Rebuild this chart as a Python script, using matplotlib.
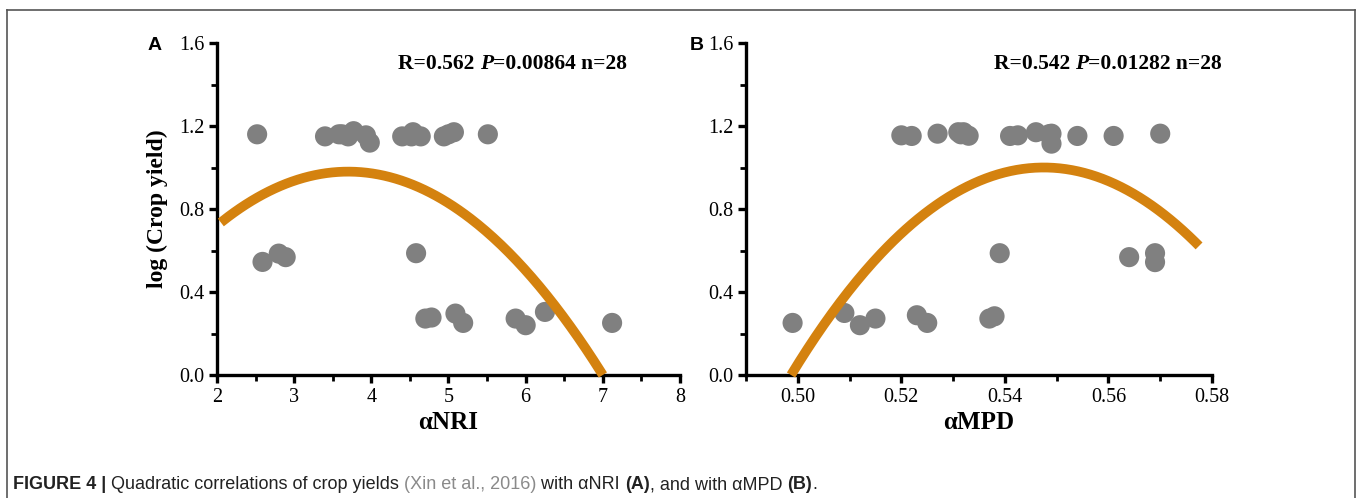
# Figure 4: quadratic correlations of crop yield with aNRI and aMPD
import numpy as np
import matplotlib
matplotlib.use("Agg")
import matplotlib.pyplot as plt
from matplotlib.ticker import FixedLocator, FormatStrFormatter
from matplotlib.lines import Line2D

# ── data ─────────────────────────────────────────────────────────────────────
nri_x = [2.52, 3.40, 3.58, 3.62, 3.70, 3.77, 3.93, 3.98, 4.40, 4.52, 4.54, 4.64,
         4.94, 5.00, 5.07, 5.51,
         2.59, 2.80, 2.89, 4.58, 4.70, 4.78, 5.09, 5.19, 5.87, 6.00, 6.25, 7.12]
nri_y = [1.16, 1.15, 1.16, 1.16, 1.15, 1.175, 1.155, 1.12, 1.15, 1.15, 1.17, 1.15,
         1.15, 1.16, 1.17, 1.16,
         0.545, 0.585, 0.568, 0.587, 0.272, 0.277, 0.296, 0.251, 0.272, 0.240, 0.304, 0.251]

mpd_x = [0.520, 0.522, 0.527, 0.531, 0.5315, 0.532, 0.533, 0.541, 0.5425, 0.546,
         0.5485, 0.549, 0.549, 0.554, 0.561, 0.570,
         0.499, 0.509, 0.512, 0.515, 0.523, 0.525, 0.537, 0.538, 0.539, 0.564, 0.569, 0.569]
mpd_y = [1.155, 1.152, 1.163, 1.170, 1.160, 1.170, 1.153, 1.152, 1.155, 1.170,
         1.160, 1.163, 1.115, 1.152, 1.152, 1.163,
         0.251, 0.299, 0.240, 0.272, 0.288, 0.251, 0.272, 0.283, 0.587, 0.568, 0.587, 0.544]

# fitted quadratics, y = a*x^2 + b*x + c
nri_fit = (-0.09, 0.666, -0.252)
nri_fit_range = (2.05, 7.0)
mpd_fit = (-420.0, 459.9, -124.8976)
mpd_fit_range = (0.4987, 0.5775)

nri_stats = ("R=0.562 ", "P", "=0.00864 n=28")
mpd_stats = ("R=0.542 ", "P", "=0.01282 n=28")

nri_xticks = [2, 3, 4, 5, 6, 7, 8]
mpd_xticks = [0.50, 0.52, 0.54, 0.56, 0.58]
y_ticks = [0.0, 0.4, 0.8, 1.2, 1.6]

# ── style ─────────────────────────────────────────────────────────────────────
W, H = 1357, 498
serif = ["Liberation Serif", "DejaVu Serif"]
dot_color = "#808080"
fit_color = "#d4820f"

fig = plt.figure(figsize=(W / 100, H / 100), dpi=100)


def px_axes(x0, x1, y_top, y_bot):
    return fig.add_axes([x0 / W, 1 - y_bot / H, (x1 - x0) / W, (y_bot - y_top) / H])


def style_axes(ax, xlim, xticks, xminor, xfmt):
    ax.set_xlim(*xlim)
    ax.set_ylim(0, 1.6)
    for s in ("top", "right"):
        ax.spines[s].set_visible(False)
    for s in ("left", "bottom"):
        ax.spines[s].set_linewidth(2.4)
    ax.xaxis.set_major_locator(FixedLocator(xticks))
    ax.xaxis.set_minor_locator(FixedLocator(xminor))
    ax.yaxis.set_major_locator(FixedLocator(y_ticks))
    ax.yaxis.set_minor_locator(FixedLocator([0.2, 0.6, 1.0, 1.4]))
    ax.xaxis.set_major_formatter(FormatStrFormatter(xfmt))
    ax.yaxis.set_major_formatter(FormatStrFormatter("%.1f"))
    ax.tick_params(which="major", direction="out", length=6, width=2.4,
                   labelsize=14.5, pad=3)
    ax.tick_params(which="minor", direction="out", length=4, width=2.0)
    for lab in ax.get_xticklabels() + ax.get_yticklabels():
        lab.set_family(serif)
    ax.set_facecolor("none")


def draw_panel(ax, xs, ys, fit, fit_range):
    ax.scatter(xs, ys, s=210, color=dot_color, edgecolors="none", zorder=2, clip_on=False)
    a, b, c = fit
    xx = np.linspace(fit_range[0], fit_range[1], 200)
    ax.plot(xx, a * xx ** 2 + b * xx + c, color=fit_color, lw=7, zorder=3,
            solid_capstyle="butt", clip_on=False)


renderer = fig.canvas.get_renderer()


def put_runs(x_px, y_px, runs, ha="left"):
    """Write text pieces one after another on a shared baseline (pixel coords)."""
    arts = []
    x = x_px
    for s, kw in runs:
        t = fig.text(x / W, 1 - y_px / H, s, ha="left", va="baseline", **kw)
        x += t.get_window_extent(renderer=renderer).width
        arts.append(t)
    if ha == "right":
        shift = (x - x_px) / W
        for t in arts:
            px, py = t.get_position()
            t.set_position((px - shift, py))


# ── panel A ───────────────────────────────────────────────────────────────────
ax1 = px_axes(217, 680, 43, 375)
style_axes(ax1, (2, 8), nri_xticks, [2.5, 3.5, 4.5, 5.5, 6.5, 7.5], "%d")
draw_panel(ax1, nri_x, nri_y, nri_fit, nri_fit_range)
ax1.set_xlabel("αNRI", fontsize=18, fontweight="bold", family=serif, labelpad=3)
ax1.set_ylabel("log (Crop yield)", fontsize=17, fontweight="bold", family=serif, labelpad=8)

# ── panel B ───────────────────────────────────────────────────────────────────
ax2 = px_axes(746, 1212, 43, 375)
style_axes(ax2, (0.49, 0.58), mpd_xticks, [0.49, 0.51, 0.53, 0.55, 0.57], "%.2f")
draw_panel(ax2, mpd_x, mpd_y, mpd_fit, mpd_fit_range)
ax2.set_xlabel("αMPD", fontsize=18, fontweight="bold", family=serif, labelpad=3)

# ── stats annotations ─────────────────────────────────────────────────────────
bold = dict(fontsize=15.5, fontweight="bold", family=serif)
ital = dict(fontsize=15.5, fontweight="bold", style="italic", family=serif)
for x_right, st in ((627, nri_stats), (1222, mpd_stats)):
    put_runs(x_right, 69, [(st[0], bold), (st[1], ital), (st[2], bold)], ha="right")

# panel letters
sans = ["Liberation Sans", "DejaVu Sans"]
fig.text(155 / W, 1 - 50 / H, "A", fontsize=14, fontweight="bold", family=sans,
         ha="center", va="baseline")
fig.text(697 / W, 1 - 50 / H, "B", fontsize=14, fontweight="bold", family=sans,
         ha="center", va="baseline")

# ── caption ───────────────────────────────────────────────────────────────────
cap = ["Liberation Sans Narrow", "Liberation Sans", "DejaVu Sans"]
cap_kw = dict(fontsize=13, family=cap, color="#222222")
cap_b = dict(cap_kw, fontweight="bold")
cap_g = dict(cap_kw, color="#8a8a8a")
put_runs(13, 489, [
    ("FIGURE 4 | ", cap_b),
    ("Quadratic correlations of crop yields ", cap_kw),
    ("(Xin et al., 2016)", cap_g),
    (" with αNRI ", cap_kw),
    ("(A)", cap_b),
    (", and with αMPD ", cap_kw),
    ("(B)", cap_b),
    (".", cap_kw),
])

# ── frame around the figure (open at the bottom) ──────────────────────────────
frame = dict(color="#555555", lw=1.2, transform=fig.transFigure)
fig.add_artist(Line2D([7 / W, 7 / W], [0, 1 - 10 / H], **frame))
fig.add_artist(Line2D([7 / W, 1355 / W], [1 - 10 / H, 1 - 10 / H], **frame))
fig.add_artist(Line2D([1355 / W, 1355 / W], [0, 1 - 10 / H], **frame))

fig.savefig("out.png", dpi=100)
plt.close(fig)
